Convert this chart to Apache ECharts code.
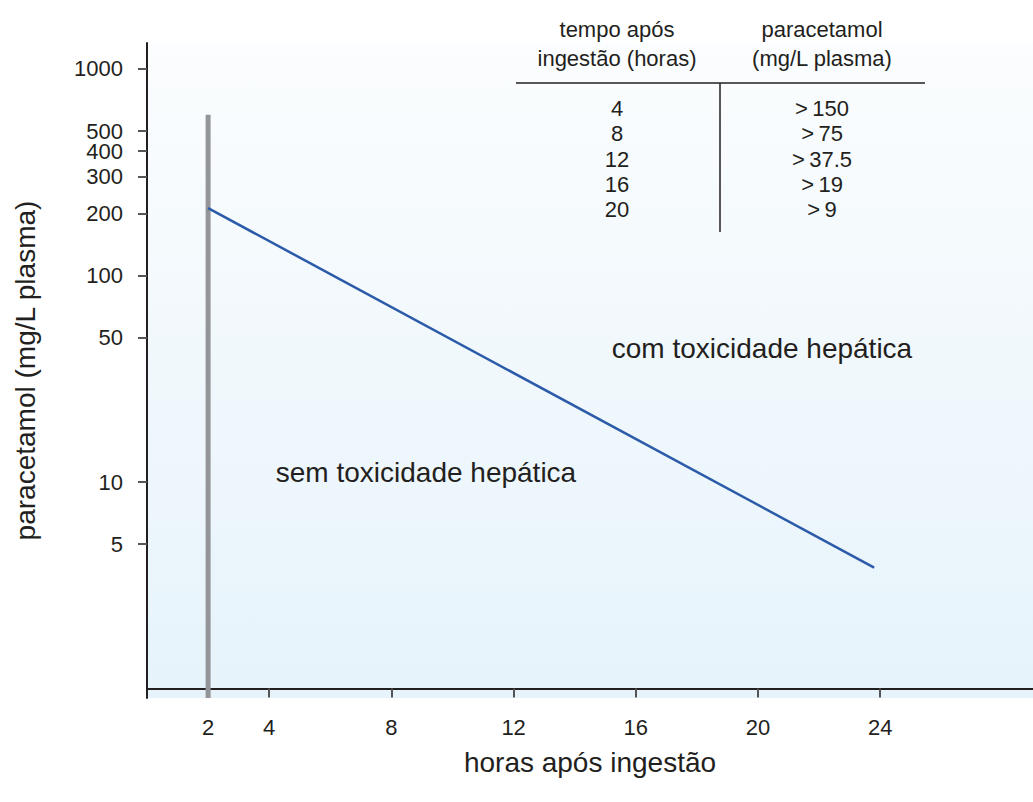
<!DOCTYPE html>
<html>
<head>
<meta charset="utf-8">
<script src="https://cdn.jsdelivr.net/npm/echarts@6/dist/echarts.min.js"></script>
<style>
  html, body { margin: 0; padding: 0; background: #fff; }
  #chart { width: 1033px; height: 802px; }
</style>
</head>
<body>
<div id="chart"></div>
<script>
// limite de tratamento (linha azul), horas / mg/L
const lineHours = [2, 23.8]
const lineLevels = [212, 3.85]
// barra cinzenta em 2 h
const barHour = 2
const barLevels = [0.9, 600]
// eixos
const xTicks = [2, 4, 8, 12, 16, 20, 24]
const yTicks = [5, 10, 50, 100, 200, 300, 400, 500, 1000]
// tabela
const tableHours = [4, 8, 12, 16, 20]
const tableLevels = ['>\u2009150', '>\u200975', '>\u200937.5', '>\u200919', '>\u20099']

const log = v => Math.log10(v)
const ink = '#231f20'
const font = '"Liberation Sans", Arial, sans-serif'

const chart = echarts.init(document.getElementById('chart'), null, { renderer: 'svg' })

// linhas da tabela (texto)
const tableText = []
tableHours.forEach((h, i) => {
  const y = 108.5 + i * 25.25
  tableText.push({ type: 'text', x: 617, y: y, style: { text: String(h), align: 'center', verticalAlign: 'middle', fontSize: 22, lineHeight: 22, fontFamily: font, fill: ink } })
  tableText.push({ type: 'text', x: 822, y: y, style: { text: tableLevels[i], align: 'center', verticalAlign: 'middle', fontSize: 22, lineHeight: 22, fontFamily: font, fill: ink } })
})

const options = {
  backgroundColor: '#fff',
  animation: false,
  grid: {
    left: 147, right: 0, top: 43, bottom: 104,
    show: true,
    borderWidth: 0,
    backgroundColor: new echarts.graphic.LinearGradient(0, 0, 0, 1, [
      { offset: 0, color: '#fbfdfe' },
      { offset: 1, color: '#e6f3fb' },
    ]),
  },
  xAxis: {
    type: 'value',
    min: 0,
    max: 29,
    name: 'horas após ingestão',
    nameLocation: 'middle',
    nameGap: 50,
    nameTextStyle: { fontSize: 28, color: ink, fontFamily: font },
    axisLine: { show: true, lineStyle: { color: ink, width: 2 } },
    axisTick: { show: true, length: 9, lineStyle: { color: '#555', width: 2 }, customValues: xTicks },
    axisLabel: { fontSize: 22, lineHeight: 18, color: ink, fontFamily: font, margin: 20, customValues: xTicks },
    splitLine: { show: false },
  },
  yAxis: {
    type: 'value',
    min: log(0.9),
    max: log(1336),
    name: 'paracetamol (mg/L plasma)',
    nameLocation: 'middle',
    nameGap: 108,
    nameTextStyle: { fontSize: 28, color: ink, fontFamily: font },
    axisLine: { show: true, lineStyle: { color: ink, width: 2 } },
    axisTick: { show: true, length: 9, lineStyle: { color: '#555', width: 2 }, customValues: yTicks.map(log) },
    axisLabel: {
      fontSize: 22, lineHeight: 17, color: ink, fontFamily: font, margin: 24,
      customValues: yTicks.map(log),
      formatter: v => String(Math.round(Math.pow(10, v))),
    },
    splitLine: { show: false },
  },
  series: [
    {
      type: 'line',
      data: barLevels.map(v => [barHour, log(v)]),
      symbol: 'none',
      lineStyle: { color: '#939598', width: 5, cap: 'butt' },
      z: 3,
    },
    {
      type: 'line',
      data: lineHours.map((h, i) => [h, log(lineLevels[i])]),
      symbol: 'none',
      lineStyle: { color: '#2b5aa8', width: 2.5 },
      z: 4,
    },
  ],
  graphic: [
    { type: 'text', x: 762, y: 348, style: { text: 'com toxicidade hepática', align: 'center', verticalAlign: 'middle', fontSize: 28, fontFamily: font, fill: ink } },
    { type: 'text', x: 426, y: 472, style: { text: 'sem toxicidade hepática', align: 'center', verticalAlign: 'middle', fontSize: 28, fontFamily: font, fill: ink } },
    { type: 'text', x: 617, y: 44, style: { text: 'tempo após\ningestão (horas)', align: 'center', verticalAlign: 'middle', fontSize: 22, lineHeight: 29, fontFamily: font, fill: ink } },
    { type: 'text', x: 822, y: 44, style: { text: 'paracetamol\n(mg/L plasma)', align: 'center', verticalAlign: 'middle', fontSize: 22, lineHeight: 29, fontFamily: font, fill: ink } },
    { type: 'line', shape: { x1: 516, y1: 83, x2: 925, y2: 83 }, style: { stroke: ink, lineWidth: 1.5 } },
    { type: 'line', shape: { x1: 720, y1: 83, x2: 720, y2: 232 }, style: { stroke: ink, lineWidth: 1.5 } },
    ...tableText,
  ],
}
chart.setOption(options)
</script>
</body>
</html>
